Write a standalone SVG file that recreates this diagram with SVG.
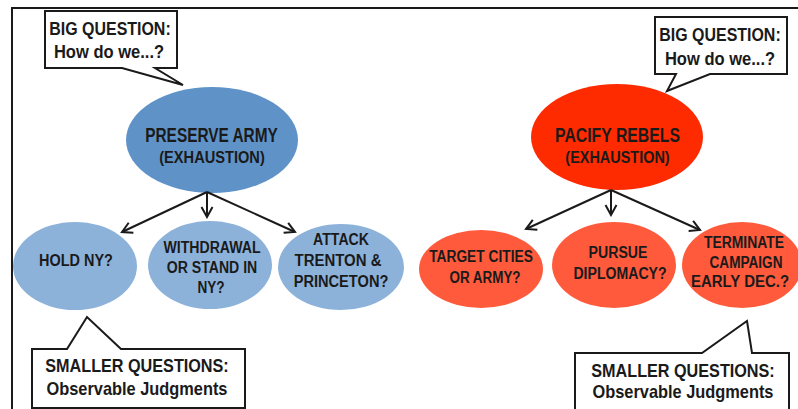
<svg xmlns="http://www.w3.org/2000/svg" width="798" height="409" viewBox="0 0 798 409">
<style>
text{font-family:"Liberation Sans",Arial,sans-serif;font-weight:bold;fill:#1a1a1a;text-anchor:middle}
.box{fill:#fff;stroke:#1a1a1a;stroke-width:2;stroke-linejoin:miter}
.main-blue{fill:#5f93c8}
.child-blue{fill:#8cb2da}
.main-red{fill:#ff2b00}
.child-red{fill:#ff5a3c}
.conn{stroke:#1a1a1a;stroke-width:2;fill:none}
.frame{stroke:#1a1a1a;stroke-width:2;fill:none}
.tb{font-size:19px}
.tm{font-size:20px}
.tx{font-size:17px}
.tc{font-size:17px}
.ts{font-size:18px}
</style>
<defs>
<marker id="arr" markerUnits="userSpaceOnUse" markerWidth="14" markerHeight="14" viewBox="0 0 14 14" refX="12" refY="7" orient="auto">
<path d="M2,1.5 L12,7 L2,12.5" fill="none" stroke="#1a1a1a" stroke-width="2"/>
</marker>
</defs>
<rect width="798" height="409" fill="#fff"/>
<path class="frame" d="M12,409 V8 H798"/>

<g id="big-question-left">
<path class="box" d="M45,11 H177 V68 H155 L183,85 L122,68 H45 Z"/>
<text class="tb" transform="translate(110,35) scale(.84,1)">BIG QUESTION:</text>
<text class="tb" transform="translate(109,58) scale(.87,1)">How do we...?</text>
</g>

<g id="big-question-right">
<path class="box" d="M655,17 H787 V74 H710 L667,91 L676,74 H655 Z"/>
<text class="tb" transform="translate(720,41) scale(.84,1)">BIG QUESTION:</text>
<text class="tb" transform="translate(720,65) scale(.87,1)">How do we...?</text>
</g>

<g id="preserve-army">
<ellipse class="main-blue" cx="212" cy="140" rx="86" ry="53"/>
<text class="tm" transform="translate(211.5,142) scale(.77,1)">PRESERVE ARMY</text>
<text class="tx" transform="translate(212,163) scale(.86,1)">(EXHAUSTION)</text>
</g>

<g id="pacify-rebels">
<ellipse class="main-red" cx="617" cy="137" rx="86" ry="53"/>
<text class="tm" transform="translate(617.5,142) scale(.79,1)">PACIFY REBELS</text>
<text class="tx" transform="translate(617.5,163) scale(.85,1)">(EXHAUSTION)</text>
</g>

<g id="hold-ny">
<ellipse class="child-blue" cx="75" cy="266" rx="62" ry="44"/>
<text class="tc" transform="translate(76,266) scale(.85,1)">HOLD NY?</text>
</g>

<g id="withdrawal">
<ellipse class="child-blue" cx="210" cy="265" rx="62" ry="44"/>
<text class="tc" transform="translate(212,253) scale(.83,1)">WITHDRAWAL</text>
<text class="tc" transform="translate(212,273) scale(.83,1)">OR STAND IN</text>
<text class="tc" transform="translate(211,293) scale(.8,1)">NY?</text>
</g>

<g id="attack">
<ellipse class="child-blue" cx="341" cy="267" rx="63" ry="43"/>
<text class="tc" transform="translate(341,245) scale(.83,1)">ATTACK</text>
<text class="tc" transform="translate(338,266) scale(.88,1)">TRENTON &amp;</text>
<text class="tc" transform="translate(341,287) scale(.86,1)">PRINCETON?</text>
</g>

<g id="target-cities">
<ellipse class="child-red" cx="481" cy="269" rx="62" ry="39"/>
<text class="tc" transform="translate(481,262) scale(.81,1)">TARGET CITIES</text>
<text class="tc" transform="translate(485,283) scale(.79,1)">OR ARMY?</text>
</g>

<g id="pursue-diplomacy">
<ellipse class="child-red" cx="614" cy="265" rx="62" ry="43"/>
<text class="tc" transform="translate(618,258) scale(.83,1)">PURSUE</text>
<text class="tc" transform="translate(620,279) scale(.83,1)">DIPLOMACY?</text>
</g>

<g id="terminate-campaign">
<ellipse class="child-red" cx="742" cy="265" rx="60" ry="43"/>
<text class="tc" transform="translate(744,248) scale(.82,1)">TERMINATE</text>
<text class="tc" transform="translate(746,268) scale(.8,1)">CAMPAIGN</text>
<text class="tc" transform="translate(740,287) scale(.88,1)">EARLY DEC.?</text>
</g>

<g id="smaller-questions-left">
<path class="box" d="M32,349 H67 L87,317 L121,349 H245 V408 H32 Z"/>
<text class="ts" transform="translate(137,372) scale(.9,1)">SMALLER QUESTIONS:</text>
<text class="ts" transform="translate(137,395) scale(.91,1)">Observable Judgments</text>
</g>

<g id="smaller-questions-right">
<path class="box" d="M575,353 H702 L747,321 L752,353 H789 V412 H575 Z"/>
<text class="ts" transform="translate(683,377) scale(.9,1)">SMALLER QUESTIONS:</text>
<text class="ts" transform="translate(683,398) scale(.91,1)">Observable Judgments</text>
</g>

<g id="connectors">
<line class="conn" x1="207" y1="192" x2="122" y2="232" marker-end="url(#arr)"/>
<line class="conn" x1="207" y1="192" x2="207" y2="217" marker-end="url(#arr)"/>
<line class="conn" x1="207" y1="192" x2="295" y2="232" marker-end="url(#arr)"/>
<line class="conn" x1="611" y1="190" x2="526" y2="229" marker-end="url(#arr)"/>
<line class="conn" x1="611" y1="190" x2="611" y2="215" marker-end="url(#arr)"/>
<line class="conn" x1="611" y1="190" x2="700" y2="230" marker-end="url(#arr)"/>
</g>
</svg>
